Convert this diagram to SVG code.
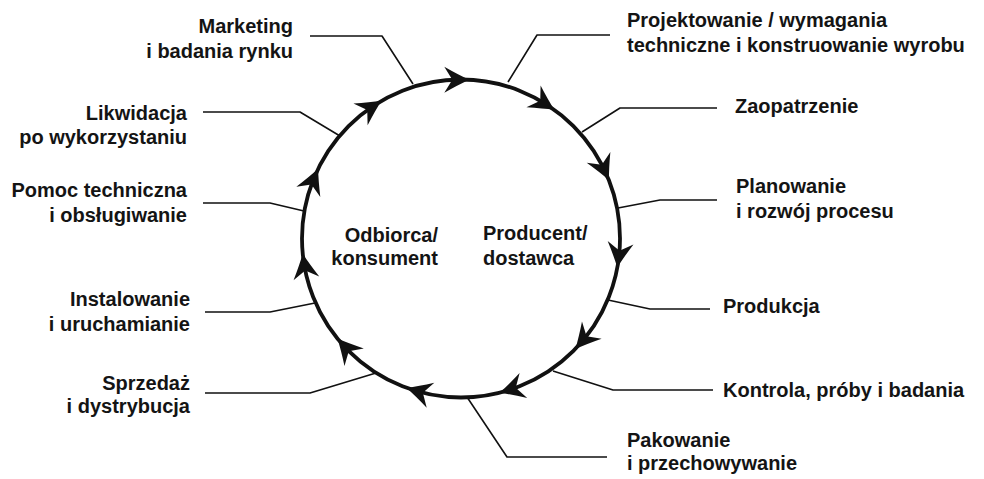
<svg xmlns="http://www.w3.org/2000/svg" width="984" height="479" viewBox="0 0 984 479">
  <style>
    .lbl { font-family: "Liberation Sans", Arial, Helvetica, sans-serif; font-size: 20px; font-weight: bold; fill: #141414; }
    .end { text-anchor: end; }
    .ring { fill: none; stroke: #111; stroke-width: 3.8; }
    .lead { fill: none; stroke: #111; stroke-width: 1.6; stroke-linejoin: round; }
    .head { fill: #111; stroke: none; }
  </style>
  <defs>
    <!-- barbed arrowhead, tip at origin, pointing along +x -->
    <path id="barb" d="M0,0 Q-11,-5 -25,-13 L-17,0 L-25,13 Q-11,5 0,0 Z"/>
  </defs>
  <rect width="984" height="479" fill="#fff"/>

  <!-- the cycle ring with its direction arrows (clockwise) -->
  <g id="cycle">
    <circle class="ring" cx="461" cy="238.5" r="159"/>
    <g class="head">
      <use href="#barb" transform="translate(469.3,79.7) rotate(0)"/>
      <use href="#barb" transform="translate(554.5,109.9) rotate(33)"/>
      <use href="#barb" transform="translate(608.9,180.2) rotate(65.5)"/>
      <use href="#barb" transform="translate(617.3,267.5) rotate(97.5)"/>
      <use href="#barb" transform="translate(575.4,349.0) rotate(131)"/>
      <use href="#barb" transform="translate(499.5,392.8) rotate(163)"/>
      <use href="#barb" transform="translate(406.6,387.9) rotate(197)"/>
      <use href="#barb" transform="translate(337.4,338.6) rotate(228)"/>
      <use href="#barb" transform="translate(302.7,253.7) rotate(261.5)"/>
      <use href="#barb" transform="translate(318.1,168.8) rotate(293)"/>
      <use href="#barb" transform="translate(381.5,100.8) rotate(327)"/>
    </g>
  </g>

  <!-- leader lines from the ring to each stage label -->
  <g id="connectors">
    <polyline class="lead" points="310,36 382,36 413,84"/>
    <polyline class="lead" points="508,82 537,35 610,35"/>
    <polyline class="lead" points="582,132 620,108 717,108"/>
    <polyline class="lead" points="618,208 660,200 717,200"/>
    <polyline class="lead" points="608,300 650,309 710,309"/>
    <polyline class="lead" points="553,371 613,390 713,390"/>
    <polyline class="lead" points="467,397 507,457 607,457"/>
    <polyline class="lead" points="376,373 310,393 205,393"/>
    <polyline class="lead" points="315,303 270,312 205,312"/>
    <polyline class="lead" points="304,211 270,203 203,203"/>
    <polyline class="lead" points="340,136 300,112 203,112"/>
  </g>

  <!-- inner labels -->
  <g id="consumer">
    <text class="lbl end" x="438" y="242">Odbiorca/</text>
    <text class="lbl end" x="438" y="265">konsument</text>
  </g>
  <g id="producer">
    <text class="lbl" x="483" y="240">Producent/</text>
    <text class="lbl" x="483" y="265">dostawca</text>
  </g>

  <!-- stage labels, clockwise from the top -->
  <g id="design">
    <text class="lbl" x="627" y="27">Projektowanie / wymagania</text>
    <text class="lbl" x="627" y="52">techniczne i konstruowanie wyrobu</text>
  </g>
  <g id="procurement">
    <text class="lbl" x="735" y="113">Zaopatrzenie</text>
  </g>
  <g id="process-planning">
    <text class="lbl" x="736" y="193">Planowanie</text>
    <text class="lbl" x="736" y="218">i rozwój procesu</text>
  </g>
  <g id="production">
    <text class="lbl" x="723" y="313">Produkcja</text>
  </g>
  <g id="inspection">
    <text class="lbl" x="723" y="397">Kontrola, próby i badania</text>
  </g>
  <g id="packaging">
    <text class="lbl" x="627" y="447">Pakowanie</text>
    <text class="lbl" x="627" y="470">i przechowywanie</text>
  </g>
  <g id="sales">
    <text class="lbl end" x="190" y="390">Sprzedaż</text>
    <text class="lbl end" x="190" y="413">i dystrybucja</text>
  </g>
  <g id="installation">
    <text class="lbl end" x="190" y="306">Instalowanie</text>
    <text class="lbl end" x="190" y="331">i uruchamianie</text>
  </g>
  <g id="service">
    <text class="lbl end" x="187" y="197">Pomoc techniczna</text>
    <text class="lbl end" x="187" y="222">i obsługiwanie</text>
  </g>
  <g id="disposal">
    <text class="lbl end" x="187" y="120">Likwidacja</text>
    <text class="lbl end" x="187" y="144">po wykorzystaniu</text>
  </g>
  <g id="marketing">
    <text class="lbl end" x="293" y="33">Marketing</text>
    <text class="lbl end" x="293" y="58">i badania rynku</text>
  </g>
</svg>
